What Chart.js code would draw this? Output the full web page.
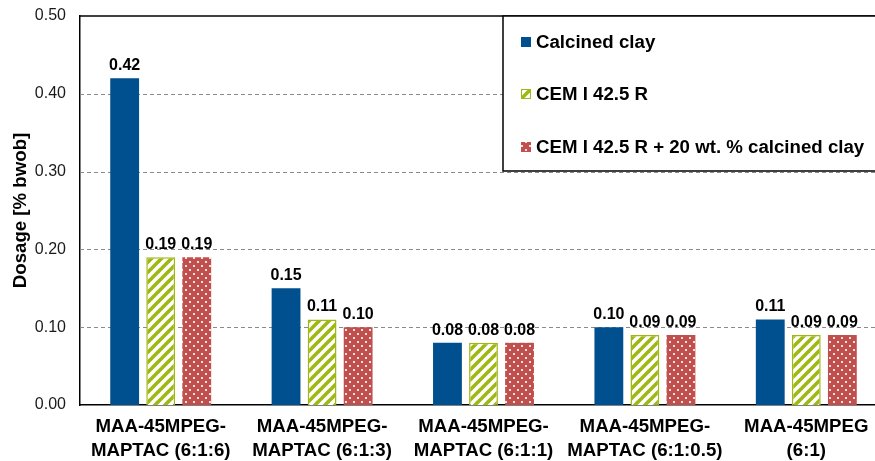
<!DOCTYPE html>
<html>
<head>
<meta charset="utf-8">
<script src="https://cdn.jsdelivr.net/npm/chart.js@4"></script>
<style>
html,body{margin:0;padding:0;background:#fff;overflow:hidden;}
#wrap{width:888px;height:461px;}
</style>
</head>
<body>
<div id="wrap"><canvas id="c" width="888" height="461"></canvas></div>
<script>
const categories = [
  ['MAA-45MPEG-', 'MAPTAC (6:1:6)'],
  ['MAA-45MPEG-', 'MAPTAC (6:1:3)'],
  ['MAA-45MPEG-', 'MAPTAC (6:1:1)'],
  ['MAA-45MPEG-', 'MAPTAC (6:1:0.5)'],
  ['MAA-45MPEG', '(6:1)']
];
const seriesNames = ['Calcined clay', 'CEM I 42.5 R', 'CEM I 42.5 R + 20 wt. % calcined clay'];
const calcinedClay = [0.42, 0.15, 0.08, 0.10, 0.11];
const cem = [0.19, 0.11, 0.08, 0.09, 0.09];
const cemClay = [0.19, 0.10, 0.08, 0.09, 0.09];
const yTicks = [0.0, 0.1, 0.2, 0.3, 0.4, 0.5];
const axisTitle = 'Dosage [% bwob]';

const BLUE = '#00508F';
const GREEN = '#A0B814';
const RED = '#C0504D';

function stripePattern() {
  const c = document.createElement('canvas');
  c.width = 10; c.height = 10;
  const g = c.getContext('2d');
  g.fillStyle = '#fff'; g.fillRect(0, 0, 10, 10);
  g.strokeStyle = GREEN; g.lineWidth = 3.6;
  [[-5, 5, 5, -5], [0, 10, 10, 0], [5, 15, 15, 5]].forEach(l => {
    g.beginPath(); g.moveTo(l[0], l[1]); g.lineTo(l[2], l[3]); g.stroke();
  });
  return g.createPattern(c, 'repeat');
}
function dotPattern() {
  const c = document.createElement('canvas');
  c.width = 8; c.height = 8;
  const g = c.getContext('2d');
  g.fillStyle = RED; g.fillRect(0, 0, 8, 8);
  g.fillStyle = '#F8DEDD';
  g.fillRect(1, 1, 2, 2);
  g.fillRect(5, 5, 2, 2);
  return g.createPattern(c, 'repeat');
}
const stripes = stripePattern();
const dots = dotPattern();
const FONT = "'Liberation Sans', Arial, sans-serif";

const overlay = {
  id: 'overlay',
  beforeDatasetsDraw(chart) {
    const {ctx, chartArea: a, scales: {y}} = chart;
    ctx.save();
    ctx.strokeStyle = '#8a8a8a';
    ctx.lineWidth = 1;
    ctx.setLineDash([4, 3]);
    yTicks.forEach(v => {
      if (v <= 0 || v >= 0.5) return;
      const py = Math.round(y.getPixelForValue(v)) + 0.5;
      ctx.beginPath(); ctx.moveTo(a.left, py); ctx.lineTo(a.right, py); ctx.stroke();
    });
    ctx.setLineDash([]);
    ctx.strokeStyle = '#000';
    ctx.lineWidth = 1.5;
    const ty = y.getPixelForValue(0.5);
    ctx.beginPath(); ctx.moveTo(a.left, ty); ctx.lineTo(a.right + 5, ty); ctx.stroke();
    ctx.restore();
  },
  afterDatasetsDraw(chart) {
    const {ctx} = chart;
    ctx.save();
    ctx.font = "bold 16px " + FONT;
    ctx.fillStyle = '#000';
    ctx.textAlign = 'center';
    ctx.textBaseline = 'alphabetic';
    chart.data.datasets.forEach((ds, i) => {
      const meta = chart.getDatasetMeta(i);
      meta.data.forEach((bar, j) => {
        ctx.fillText(ds.data[j].toFixed(2), bar.x, bar.y - 8);
      });
    });
    ctx.restore();
  },
  afterDraw(chart) {
    const {ctx, chartArea: a} = chart;
    ctx.save();
    const bx = 503, by = a.top, bw = 400, bh = 171 - a.top;
    ctx.fillStyle = '#fff';
    ctx.fillRect(bx, by, bw, bh);
    ctx.strokeStyle = '#000';
    ctx.lineWidth = 1.5;
    ctx.strokeRect(bx, by, bw, bh);
    const rows = [42, 94, 147];
    const fills = [BLUE, stripes, dots];
    ctx.font = "bold 18.67px " + FONT;
    ctx.textBaseline = 'middle';
    ctx.textAlign = 'left';
    chart.data.datasets.forEach((ds, i) => {
      const yy = rows[i];
      ctx.fillStyle = fills[i];
      ctx.fillRect(521, yy - 5, 10, 10);
      if (i === 1) { ctx.strokeStyle = GREEN; ctx.lineWidth = 1; ctx.strokeRect(521.5, yy - 4.5, 9, 9); }
      ctx.fillStyle = '#000';
      ctx.fillText(ds.label, 536, yy + 1);
    });
    ctx.restore();
  }
};

new Chart(document.getElementById('c'), {
  type: 'bar',
  data: {
    labels: categories,
    datasets: [
      {label: seriesNames[0], data: calcinedClay, backgroundColor: BLUE, borderWidth: 0},
      {label: seriesNames[1], data: cem, backgroundColor: stripes, borderColor: GREEN, borderWidth: 1.5},
      {label: seriesNames[2], data: cemClay, backgroundColor: dots, borderColor: '#D88A88', borderWidth: 0}
    ]
  },
  options: {
    responsive: false,
    animation: false,
    devicePixelRatio: 1,
    layout: {padding: {top: 16, right: 1, left: 0, bottom: 0}},
    categoryPercentage: 0.67,
    barPercentage: 0.8,
    plugins: {legend: {display: false}, tooltip: {enabled: false}},
    scales: {
      x: {
        grid: {display: false, drawTicks: false},
        border: {display: true, color: '#000', width: 1.5},
        ticks: {
          color: '#000',
          font: {family: FONT, size: 18.67, weight: 'bold', lineHeight: 1.285},
          padding: 10, maxRotation: 0, autoSkip: false
        },
        afterFit(s) { s.height = 56; s.paddingLeft = 0; s.paddingRight = 0; }
      },
      y: {
        min: 0, max: 0.5,
        afterBuildTicks(s) { s.ticks = yTicks.map(v => ({value: v})); },
        grid: {display: false, drawTicks: false},
        border: {display: true, color: '#000', width: 1.5},
        ticks: {
          color: '#1a1a1a',
          font: {family: FONT, size: 16},
          padding: 14,
          callback: v => Number(v).toFixed(2)
        },
        title: {
          display: true, text: axisTitle, color: '#000',
          font: {family: FONT, size: 18.67, weight: 'bold'},
          padding: {top: 10, bottom: 0}
        },
        afterFit(s) { s.width = 80; s.paddingTop = 0; s.paddingBottom = 0; }
      }
    }
  },
  plugins: [overlay]
});
</script>
</body>
</html>
